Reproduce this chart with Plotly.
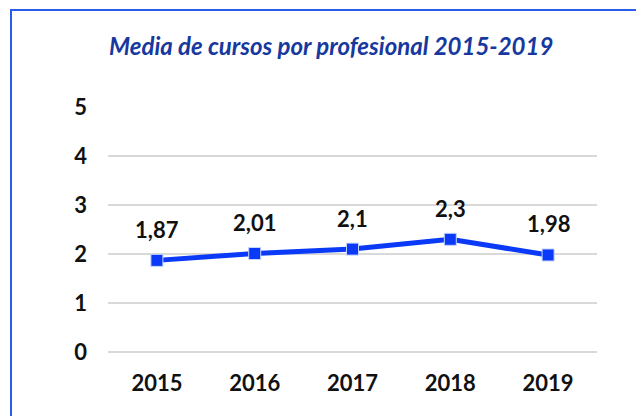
import plotly.graph_objects as go

years = ["2015", "2016", "2017", "2018", "2019"]
values = [1.87, 2.01, 2.10, 2.30, 1.98]
labels = ["1,87", "2,01", "2,1", "2,3", "1,98"]
title_text = "Media de cursos por profesional 2015-2019"

W, H = 644, 416
OFF = 8  # page body margin
ML, MR, MT, MB = 108 - OFF, 55, 107 - OFF, 72
pw, ph = W - ML - MR, H - MT - MB

line_color = "#0A3AF7"
tick_font = dict(family="Lato", size=22, color="#111111", weight="bold")

fig = go.Figure()
fig.add_trace(go.Scatter(
    x=years, y=values, mode="lines+markers",
    line=dict(color=line_color, width=5),
    marker=dict(symbol="square", size=12, color=line_color,
                line=dict(color="#C4D3FF", width=1)),
    hoverinfo="skip", showlegend=False,
))

for i, (y, t) in enumerate(zip(values, labels)):
    fig.add_annotation(x=i, y=y, text=t, showarrow=False, yshift=31,
                       font=dict(family="Lato", size=22, color="#111111", weight="bold"))

fig.add_annotation(xref="paper", yref="paper",
                   x=(331 - OFF - ML) / pw, y=(H - MB - (46 - OFF)) / ph,
                   text=title_text, showarrow=False,
                   xanchor="center", yanchor="middle",
                   font=dict(family="Lato", size=24, color="#17389E", weight="bold", style="italic"))

# outer border (top and left visible)
fig.add_shape(type="rect", xref="paper", yref="paper",
              x0=(11 - OFF - ML) / pw, x1=(W + 40 - ML) / pw,
              y0=(H - MB - (H + 40)) / ph, y1=(H - MB - (10 - OFF)) / ph,
              line=dict(color="#2A5BEA", width=2), fillcolor="rgba(0,0,0,0)", layer="above")

fig.update_layout(
    width=W, height=H,
    margin=dict(l=ML, r=MR, t=MT, b=MB),
    paper_bgcolor="white", plot_bgcolor="white",
    font=dict(family="Lato", color="#111111"),
    xaxis=dict(type="category", range=[-0.5, 4.5], showgrid=False, showline=False,
               ticks="", tickfont=tick_font, ticklabelstandoff=16),
    yaxis=dict(range=[0, 5], dtick=1, showgrid=True, gridcolor="#D9D9D9", gridwidth=1.5,
               zeroline=True, zerolinecolor="#D9D9D9", zerolinewidth=1.5, showline=False,
               ticks="", tickfont=tick_font, ticklabelstandoff=20),
)

fig.write_html("out.html")
